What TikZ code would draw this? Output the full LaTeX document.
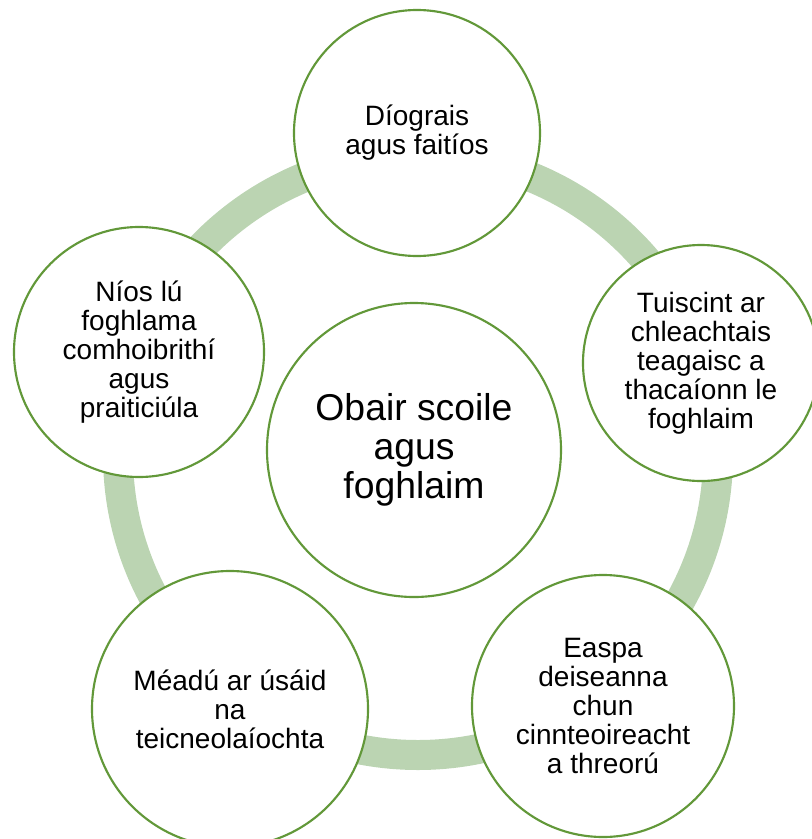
\documentclass[tikz,border=0pt]{standalone}
\usepackage{fontspec}
\setmainfont{Liberation Sans}
\definecolor{ringgreen}{RGB}{187,212,178}
\definecolor{edgegreen}{RGB}{98,152,57}
\begin{document}
\begin{tikzpicture}[x=0.75pt,y=-0.75pt,
  bubble/.style={circle, draw=edgegreen, fill=white, line width=1.6pt, inner sep=0pt,
    align=center, minimum size=#1*1.5pt, font=\fontsize{21}{21.8}\selectfont},
  hubtext/.style={font=\fontsize{28}{29}\selectfont}]
\useasboundingbox (0,0) rectangle (811,839);
\coordinate (rc) at (418,455);
\draw[ringgreen, line width=22.5pt] (rc) circle[radius=225pt];
\node[bubble=123] (top) at (417,133) {Díograis\\agus faitíos};
\node[bubble=118] (right) at (701,363) {Tuiscint ar\\chleachtais\\teagaisc a\\thacaíonn le\\foghlaim};
\node[bubble=131] (bright) at (603,706) {Easpa\\deiseanna\\chun\\cinnteoireacht\\a threorú};
\node[bubble=138] (bleft) at (230,709) {Méadú ar úsáid\\na\\teicneolaíochta};
\node[bubble=125] (left) at (139,352) {Níos lú\\foghlama\\comhoibrithí\\agus\\praiticiúla};
\node[bubble=147, hubtext] (hub) at (414,450) {Obair scoile\\agus\\foghlaim};
\end{tikzpicture}
\end{document}
